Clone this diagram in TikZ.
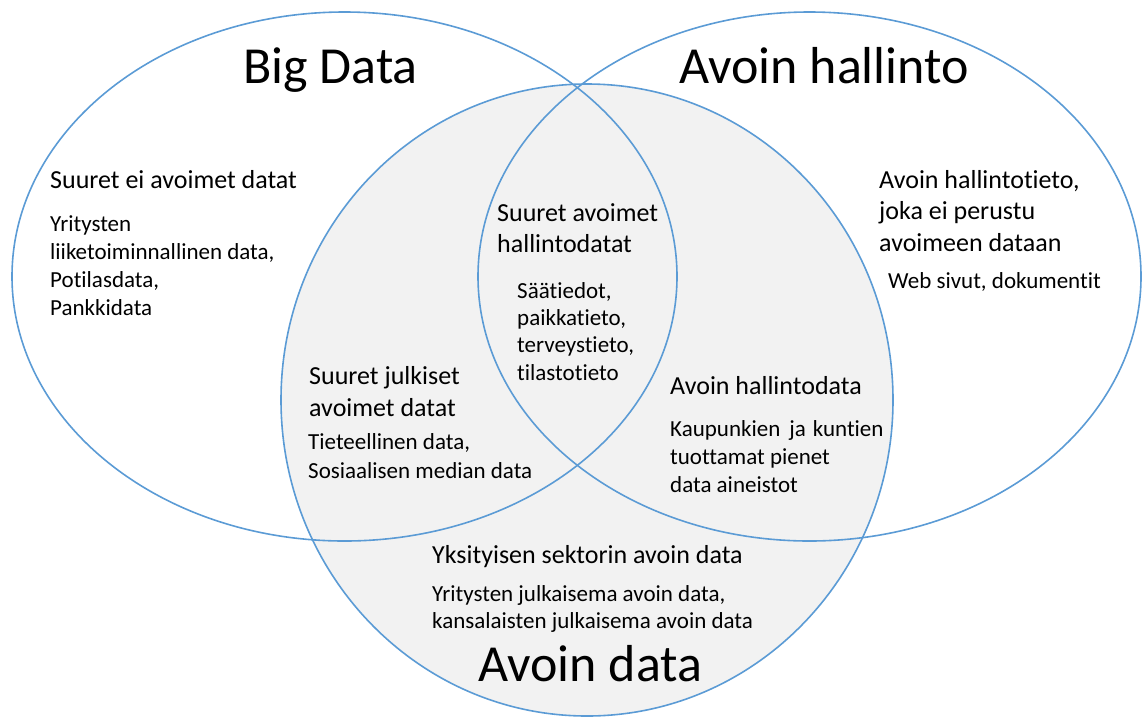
\documentclass[tikz,border=0pt]{standalone}
\usepackage{fontspec}
\setmainfont{Carlito}[Ligatures={NoCommon,NoContextual}]
\definecolor{vennline}{HTML}{5B9BD5}
\definecolor{vennfill}{HTML}{F2F2F2}
\begin{document}
\begin{tikzpicture}[x=1pt,y=-1pt,
  setline/.style={draw=vennline,line width=1.6pt},
  title/.style={anchor=base west,inner sep=0pt,font=\fontsize{52}{62}\selectfont},
  head/.style={anchor=base west,inner sep=0pt,font=\fontsize{26}{32}\selectfont},
  body/.style={anchor=base west,inner sep=0pt,font=\fontsize{23}{28}\selectfont}]
\useasboundingbox (0,0) rectangle (1142,716);

% the three sets: Big Data (left), Avoin hallinto (right), Avoin data (bottom)
\fill[vennfill] (587,400) ellipse [x radius=306pt, y radius=316pt];
\draw[setline] (344.5,276.5) ellipse [x radius=332.5pt, y radius=264.5pt];
\draw[setline] (809.5,276.5) ellipse [x radius=331.5pt, y radius=264.5pt];
\draw[setline] (587,400) ellipse [x radius=306pt, y radius=316pt];

% set titles
\node[title] (tBig)  at (243,83)  {Big Data};
\node[title] (tGov)  at (679,83)  {Avoin hallinto};
\node[title] (tOpen) at (478,681) {Avoin data};

% Big Data only
\node[head] (bd0) at (50,188) {Suuret ei avoimet datat};
\node[body] (bd1) at (50,231) {Yritysten};
\node[body] (bd2) at (50,259) {liiketoiminnallinen data,};
\node[body] (bd3) at (50,287) {Potilasdata,};
\node[body] (bd4) at (50,315) {Pankkidata};

% all three sets
\node[head] (ct0) at (497,221) {Suuret avoimet};
\node[head] (ct1) at (497,252) {hallintodatat};
\node[body] (ct2) at (517,298) {Säätiedot,};
\node[body] (ct3) at (517,325) {paikkatieto,};
\node[body] (ct4) at (517,352) {terveystieto,};
\node[body] (ct5) at (517,380) {tilastotieto};

% Avoin hallinto only
\node[head] (gv0) at (879,188) {Avoin hallintotieto,};
\node[head] (gv1) at (879,219) {joka ei perustu};
\node[head] (gv2) at (879,251) {avoimeen dataan};
\node[body] (gv3) at (888,288) {Web sivut, dokumentit};

% Big Data and Avoin data
\node[head] (bo0) at (309,384) {Suuret julkiset};
\node[head] (bo1) at (309,416) {avoimet datat};
\node[body] (bo2) at (308,449) {Tieteellinen data,};
\node[body] (bo3) at (308,478) {Sosiaalisen median data};

% Avoin hallinto and Avoin data
\node[head] (go0) at (670,394) {Avoin hallintodata};
\node[body] (go1) at (670,436) {Kaupunkien\hspace{9pt}ja\hspace{7pt}kuntien};
\node[body] (go2) at (670,464) {tuottamat pienet};
\node[body] (go3) at (670,492) {data aineistot};

% Avoin data only
\node[head] (od0) at (432,563) {Yksityisen sektorin avoin data};
\node[body] (od1) at (432,601) {Yritysten julkaisema avoin data,};
\node[body] (od2) at (432,628) {kansalaisten julkaisema avoin data};
\end{tikzpicture}
\end{document}
